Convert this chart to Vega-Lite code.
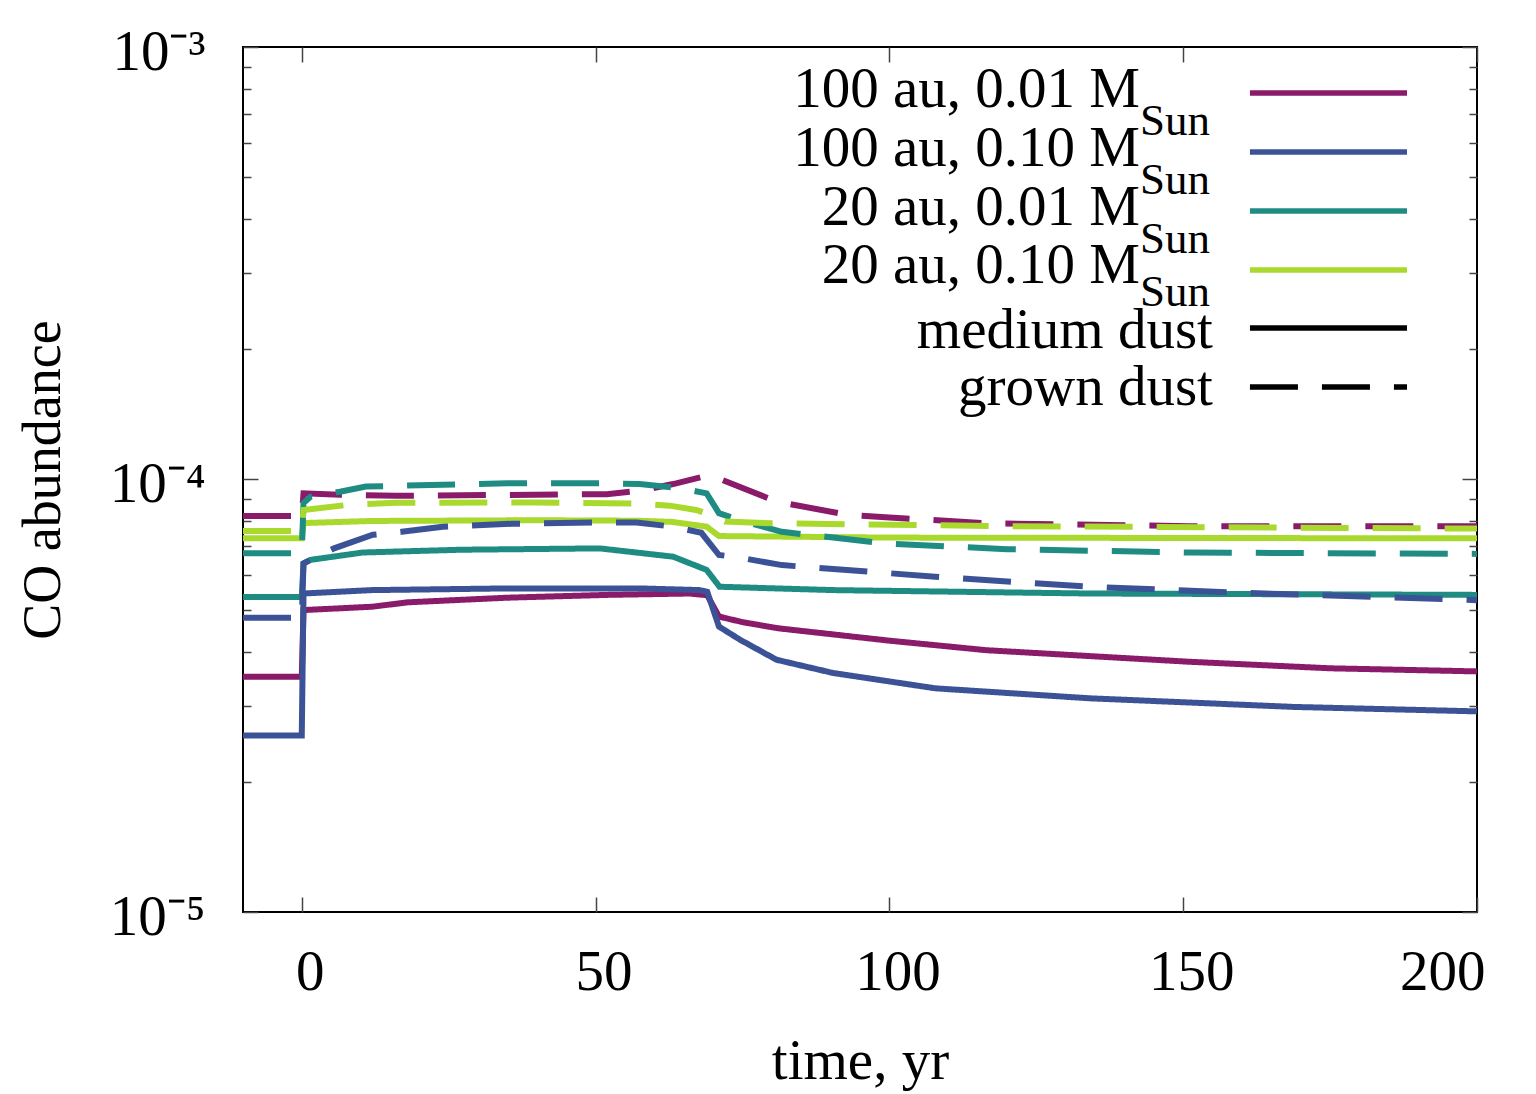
{
  "$schema": "https://vega.github.io/schema/vega-lite/v6.json",
  "autosize": "none",
  "width": 1234,
  "height": 865,
  "padding": {"left": 243, "top": 47, "right": 59, "bottom": 182},
  "background": "white",
  "config": {
    "font": "Liberation Serif",
    "view": {"stroke": "black", "strokeWidth": 2},
    "axis": {"domain": false, "grid": false, "tickColor": "#444", "tickWidth": 1.5, "labelColor": "black", "titleColor": "black", "titleFontWeight": "normal", "labelFont": "Liberation Serif", "titleFont": "Liberation Serif"}
  },
  "datasets": {
    "curves": [
      {"s": "100 au, 0.01", "d": "medium", "t": -10, "v": 3.50e-5},
      {"s": "100 au, 0.01", "d": "medium", "t": 0, "v": 3.50e-5},
      {"s": "100 au, 0.01", "d": "medium", "t": 0.3, "v": 4.99e-5},
      {"s": "100 au, 0.01", "d": "medium", "t": 12, "v": 5.08e-5},
      {"s": "100 au, 0.01", "d": "medium", "t": 18, "v": 5.20e-5},
      {"s": "100 au, 0.01", "d": "medium", "t": 35, "v": 5.33e-5},
      {"s": "100 au, 0.01", "d": "medium", "t": 52, "v": 5.41e-5},
      {"s": "100 au, 0.01", "d": "medium", "t": 66, "v": 5.45e-5},
      {"s": "100 au, 0.01", "d": "medium", "t": 69, "v": 5.40e-5},
      {"s": "100 au, 0.01", "d": "medium", "t": 71, "v": 4.82e-5},
      {"s": "100 au, 0.01", "d": "medium", "t": 75, "v": 4.68e-5},
      {"s": "100 au, 0.01", "d": "medium", "t": 81, "v": 4.53e-5},
      {"s": "100 au, 0.01", "d": "medium", "t": 100, "v": 4.24e-5},
      {"s": "100 au, 0.01", "d": "medium", "t": 116.5, "v": 4.03e-5},
      {"s": "100 au, 0.01", "d": "medium", "t": 151, "v": 3.79e-5},
      {"s": "100 au, 0.01", "d": "medium", "t": 175, "v": 3.66e-5},
      {"s": "100 au, 0.01", "d": "medium", "t": 200, "v": 3.60e-5},

      {"s": "100 au, 0.10", "d": "medium", "t": -10, "v": 2.56e-5},
      {"s": "100 au, 0.10", "d": "medium", "t": 0, "v": 2.56e-5},
      {"s": "100 au, 0.10", "d": "medium", "t": 0.3, "v": 5.45e-5},
      {"s": "100 au, 0.10", "d": "medium", "t": 12, "v": 5.55e-5},
      {"s": "100 au, 0.10", "d": "medium", "t": 35, "v": 5.60e-5},
      {"s": "100 au, 0.10", "d": "medium", "t": 57.5, "v": 5.60e-5},
      {"s": "100 au, 0.10", "d": "medium", "t": 67.7, "v": 5.55e-5},
      {"s": "100 au, 0.10", "d": "medium", "t": 69, "v": 5.50e-5},
      {"s": "100 au, 0.10", "d": "medium", "t": 71, "v": 4.57e-5},
      {"s": "100 au, 0.10", "d": "medium", "t": 74.6, "v": 4.26e-5},
      {"s": "100 au, 0.10", "d": "medium", "t": 80.8, "v": 3.83e-5},
      {"s": "100 au, 0.10", "d": "medium", "t": 90.4, "v": 3.57e-5},
      {"s": "100 au, 0.10", "d": "medium", "t": 107.8, "v": 3.29e-5},
      {"s": "100 au, 0.10", "d": "medium", "t": 134, "v": 3.12e-5},
      {"s": "100 au, 0.10", "d": "medium", "t": 168.7, "v": 2.98e-5},
      {"s": "100 au, 0.10", "d": "medium", "t": 200, "v": 2.91e-5},

      {"s": "20 au, 0.01", "d": "medium", "t": -10, "v": 5.35e-5},
      {"s": "20 au, 0.01", "d": "medium", "t": 0, "v": 5.35e-5},
      {"s": "20 au, 0.01", "d": "medium", "t": 0.3, "v": 6.40e-5},
      {"s": "20 au, 0.01", "d": "medium", "t": 1.5, "v": 6.52e-5},
      {"s": "20 au, 0.01", "d": "medium", "t": 10.4, "v": 6.78e-5},
      {"s": "20 au, 0.01", "d": "medium", "t": 27, "v": 6.88e-5},
      {"s": "20 au, 0.01", "d": "medium", "t": 50.7, "v": 6.93e-5},
      {"s": "20 au, 0.01", "d": "medium", "t": 63.2, "v": 6.63e-5},
      {"s": "20 au, 0.01", "d": "medium", "t": 68.9, "v": 6.18e-5},
      {"s": "20 au, 0.01", "d": "medium", "t": 71.1, "v": 5.65e-5},
      {"s": "20 au, 0.01", "d": "medium", "t": 90.4, "v": 5.55e-5},
      {"s": "20 au, 0.01", "d": "medium", "t": 134, "v": 5.45e-5},
      {"s": "20 au, 0.01", "d": "medium", "t": 200, "v": 5.41e-5},

      {"s": "20 au, 0.10", "d": "medium", "t": -10, "v": 7.31e-5},
      {"s": "20 au, 0.10", "d": "medium", "t": 0, "v": 7.31e-5},
      {"s": "20 au, 0.10", "d": "medium", "t": 0.3, "v": 7.93e-5},
      {"s": "20 au, 0.10", "d": "medium", "t": 12, "v": 8.02e-5},
      {"s": "20 au, 0.10", "d": "medium", "t": 40, "v": 8.05e-5},
      {"s": "20 au, 0.10", "d": "medium", "t": 57, "v": 8.03e-5},
      {"s": "20 au, 0.10", "d": "medium", "t": 63, "v": 7.98e-5},
      {"s": "20 au, 0.10", "d": "medium", "t": 68.9, "v": 7.78e-5},
      {"s": "20 au, 0.10", "d": "medium", "t": 71, "v": 7.40e-5},
      {"s": "20 au, 0.10", "d": "medium", "t": 100, "v": 7.34e-5},
      {"s": "20 au, 0.10", "d": "medium", "t": 200, "v": 7.31e-5},

      {"s": "100 au, 0.01", "d": "grown", "t": -10, "v": 8.23e-5},
      {"s": "100 au, 0.01", "d": "grown", "t": 0, "v": 8.23e-5},
      {"s": "100 au, 0.01", "d": "grown", "t": 0.3, "v": 9.29e-5},
      {"s": "100 au, 0.01", "d": "grown", "t": 6.5, "v": 9.22e-5},
      {"s": "100 au, 0.01", "d": "grown", "t": 16, "v": 9.17e-5},
      {"s": "100 au, 0.01", "d": "grown", "t": 35, "v": 9.21e-5},
      {"s": "100 au, 0.01", "d": "grown", "t": 51.9, "v": 9.25e-5},
      {"s": "100 au, 0.01", "d": "grown", "t": 57.5, "v": 9.42e-5},
      {"s": "100 au, 0.01", "d": "grown", "t": 63.2, "v": 9.76e-5},
      {"s": "100 au, 0.01", "d": "grown", "t": 69.5, "v": 1.024e-4},
      {"s": "100 au, 0.01", "d": "grown", "t": 80.8, "v": 8.89e-5},
      {"s": "100 au, 0.01", "d": "grown", "t": 93, "v": 8.28e-5},
      {"s": "100 au, 0.01", "d": "grown", "t": 116.5, "v": 7.92e-5},
      {"s": "100 au, 0.01", "d": "grown", "t": 151, "v": 7.80e-5},
      {"s": "100 au, 0.01", "d": "grown", "t": 200, "v": 7.80e-5},

      {"s": "100 au, 0.10", "d": "grown", "t": -10, "v": 4.79e-5},
      {"s": "100 au, 0.10", "d": "grown", "t": 0, "v": 4.79e-5},
      {"s": "100 au, 0.10", "d": "grown", "t": 0.3, "v": 6.40e-5},
      {"s": "100 au, 0.10", "d": "grown", "t": 5.5, "v": 6.93e-5},
      {"s": "100 au, 0.10", "d": "grown", "t": 12.1, "v": 7.45e-5},
      {"s": "100 au, 0.10", "d": "grown", "t": 17, "v": 7.57e-5},
      {"s": "100 au, 0.10", "d": "grown", "t": 24, "v": 7.78e-5},
      {"s": "100 au, 0.10", "d": "grown", "t": 35.8, "v": 7.90e-5},
      {"s": "100 au, 0.10", "d": "grown", "t": 51, "v": 7.96e-5},
      {"s": "100 au, 0.10", "d": "grown", "t": 57, "v": 7.95e-5},
      {"s": "100 au, 0.10", "d": "grown", "t": 63.2, "v": 7.78e-5},
      {"s": "100 au, 0.10", "d": "grown", "t": 68, "v": 7.53e-5},
      {"s": "100 au, 0.10", "d": "grown", "t": 71, "v": 6.69e-5},
      {"s": "100 au, 0.10", "d": "grown", "t": 73.9, "v": 6.62e-5},
      {"s": "100 au, 0.10", "d": "grown", "t": 81.7, "v": 6.34e-5},
      {"s": "100 au, 0.10", "d": "grown", "t": 107.8, "v": 5.96e-5},
      {"s": "100 au, 0.10", "d": "grown", "t": 134, "v": 5.65e-5},
      {"s": "100 au, 0.10", "d": "grown", "t": 160, "v": 5.47e-5},
      {"s": "100 au, 0.10", "d": "grown", "t": 200, "v": 5.26e-5},

      {"s": "20 au, 0.01", "d": "grown", "t": -10, "v": 6.75e-5},
      {"s": "20 au, 0.01", "d": "grown", "t": 0, "v": 6.75e-5},
      {"s": "20 au, 0.01", "d": "grown", "t": 0.3, "v": 8.83e-5},
      {"s": "20 au, 0.01", "d": "grown", "t": 1.5, "v": 9.12e-5},
      {"s": "20 au, 0.01", "d": "grown", "t": 6.5, "v": 9.37e-5},
      {"s": "20 au, 0.01", "d": "grown", "t": 10.9, "v": 9.63e-5},
      {"s": "20 au, 0.01", "d": "grown", "t": 17.8, "v": 9.68e-5},
      {"s": "20 au, 0.01", "d": "grown", "t": 35, "v": 9.80e-5},
      {"s": "20 au, 0.01", "d": "grown", "t": 51.9, "v": 9.80e-5},
      {"s": "20 au, 0.01", "d": "grown", "t": 57.5, "v": 9.76e-5},
      {"s": "20 au, 0.01", "d": "grown", "t": 64.3, "v": 9.55e-5},
      {"s": "20 au, 0.01", "d": "grown", "t": 68.9, "v": 9.29e-5},
      {"s": "20 au, 0.01", "d": "grown", "t": 71, "v": 8.36e-5},
      {"s": "20 au, 0.01", "d": "grown", "t": 74.6, "v": 8.05e-5},
      {"s": "20 au, 0.01", "d": "grown", "t": 81.7, "v": 7.57e-5},
      {"s": "20 au, 0.01", "d": "grown", "t": 99, "v": 7.12e-5},
      {"s": "20 au, 0.01", "d": "grown", "t": 120, "v": 6.90e-5},
      {"s": "20 au, 0.01", "d": "grown", "t": 151, "v": 6.78e-5},
      {"s": "20 au, 0.01", "d": "grown", "t": 200, "v": 6.73e-5},

      {"s": "20 au, 0.10", "d": "grown", "t": -10, "v": 7.60e-5},
      {"s": "20 au, 0.10", "d": "grown", "t": 0, "v": 7.60e-5},
      {"s": "20 au, 0.10", "d": "grown", "t": 0.3, "v": 8.50e-5},
      {"s": "20 au, 0.10", "d": "grown", "t": 7.6, "v": 8.73e-5},
      {"s": "20 au, 0.10", "d": "grown", "t": 16, "v": 8.83e-5},
      {"s": "20 au, 0.10", "d": "grown", "t": 40, "v": 8.85e-5},
      {"s": "20 au, 0.10", "d": "grown", "t": 57.5, "v": 8.79e-5},
      {"s": "20 au, 0.10", "d": "grown", "t": 62.6, "v": 8.70e-5},
      {"s": "20 au, 0.10", "d": "grown", "t": 67.1, "v": 8.50e-5},
      {"s": "20 au, 0.10", "d": "grown", "t": 69.6, "v": 8.28e-5},
      {"s": "20 au, 0.10", "d": "grown", "t": 72, "v": 8.00e-5},
      {"s": "20 au, 0.10", "d": "grown", "t": 80, "v": 7.92e-5},
      {"s": "20 au, 0.10", "d": "grown", "t": 120, "v": 7.80e-5},
      {"s": "20 au, 0.10", "d": "grown", "t": 200, "v": 7.70e-5}
    ],
    "legend": [
      {"s": "100 au, 0.01", "d": "medium", "label": "100 au, 0.01 M", "sub": "Sun", "tx": 142.64, "ly": 7.824e-4, "ty": 7.265e-4, "sy": 6.259e-4},
      {"s": "100 au, 0.10", "d": "medium", "label": "100 au, 0.10 M", "sub": "Sun", "tx": 142.64, "ly": 5.716e-4, "ty": 5.306e-4, "sy": 4.572e-4},
      {"s": "20 au, 0.01", "d": "medium", "label": "20 au, 0.01 M", "sub": "Sun", "tx": 142.64, "ly": 4.175e-4, "ty": 3.877e-4, "sy": 3.340e-4},
      {"s": "20 au, 0.10", "d": "medium", "label": "20 au, 0.10 M", "sub": "Sun", "tx": 142.64, "ly": 3.050e-4, "ty": 2.847e-4, "sy": 2.512e-4},
      {"s": "medium dust", "d": "medium", "label": "medium dust", "sub": "", "tx": 155.06, "ly": 2.240e-4, "ty": 2.015e-4, "sy": 2.015e-4},
      {"s": "grown dust", "d": "grown", "label": "grown dust", "sub": "", "tx": 155.06, "ly": 1.636e-4, "ty": 1.487e-4, "sy": 1.487e-4}
    ]
  },
  "layer": [
    {
      "data": {"name": "curves"},
      "mark": {"type": "line", "strokeWidth": 6, "clip": true},
      "encoding": {
        "x": {"field": "t", "type": "quantitative", "scale": {"domain": [-10, 200], "nice": false, "zero": false},
          "axis": {"orient": "bottom", "values": [0, 50, 100, 150, 200], "tickSize": -15, "labelFontSize": 57, "labelPadding": 47, "labelOffset": 8, "title": "time, yr", "titleFontSize": 57, "titlePadding": 33}},
        "y": {"field": "v", "type": "quantitative", "scale": {"type": "log", "domain": [1e-5, 1e-3], "nice": false},
          "axis": {"orient": "left", "values": [1e-5, 1e-4, 1e-3], "tickSize": -15, "labelFontSize": 57, "labelPadding": 53, "labelOffset": 5,
            "labelExpr": "datum.value < 0.00005 ? '10⁻⁵' : (datum.value < 0.0005 ? '10⁻⁴' : '10⁻³')",
            "title": "CO abundance", "titleFontSize": 54, "titlePadding": 39}},
        "color": {"field": "s", "type": "nominal", "legend": null,
          "scale": {"domain": ["100 au, 0.01", "100 au, 0.10", "20 au, 0.01", "20 au, 0.10", "medium dust", "grown dust"],
            "range": ["#8a1a6a", "#3b5296", "#1f8c83", "#a8d92c", "#000000", "#000000"]}},
        "strokeDash": {"field": "d", "type": "nominal", "legend": null,
          "scale": {"domain": ["medium", "grown"], "range": [[1, 0], [48, 24]]}},
        "order": {"field": "t", "type": "quantitative"}
      }
    },
    {
      "data": {"name": "legend"},
      "mark": {"type": "rule", "strokeWidth": 5.5},
      "encoding": {
        "x": {"datum": 161.36, "type": "quantitative",
          "axis": {"orient": "top", "values": [0, 50, 100, 150, 200], "tickSize": -15, "labels": false, "title": null}},
        "x2": {"datum": 188.09},
        "y": {"field": "ly", "type": "quantitative",
          "axis": {"orient": "left", "values": [2e-5, 3e-5, 4e-5, 5e-5, 6e-5, 7e-5, 8e-5, 9e-5, 2e-4, 3e-4, 4e-4, 5e-4, 6e-4, 7e-4, 8e-4, 9e-4], "tickSize": -8, "labels": false, "title": null}},
        "color": {"field": "s", "type": "nominal", "legend": null},
        "strokeDash": {"field": "d", "type": "nominal", "legend": null}
      }
    },
    {
      "data": {"name": "legend"},
      "mark": {"type": "text", "align": "right", "baseline": "alphabetic", "fontSize": 57, "font": "Liberation Serif", "color": "black"},
      "encoding": {
        "x": {"field": "tx", "type": "quantitative", "axis": null},
        "y": {"field": "ty", "type": "quantitative",
          "axis": {"orient": "right", "values": [1e-5, 1e-4, 1e-3], "tickSize": -15, "labels": false, "title": null}},
        "text": {"field": "label"}
      }
    },
    {
      "data": {"name": "legend"},
      "transform": [{"filter": "datum.sub != ''"}],
      "mark": {"type": "text", "align": "left", "baseline": "alphabetic", "fontSize": 45, "font": "Liberation Serif", "color": "black"},
      "encoding": {
        "x": {"field": "tx", "type": "quantitative", "axis": null},
        "y": {"field": "sy", "type": "quantitative",
          "axis": {"orient": "right", "values": [2e-5, 3e-5, 4e-5, 5e-5, 6e-5, 7e-5, 8e-5, 9e-5, 2e-4, 3e-4, 4e-4, 5e-4, 6e-4, 7e-4, 8e-4, 9e-4], "tickSize": -8, "labels": false, "title": null}},
        "text": {"field": "sub"}
      }
    }
  ],
  "resolve": {"axis": {"x": "independent", "y": "independent"}}
}
